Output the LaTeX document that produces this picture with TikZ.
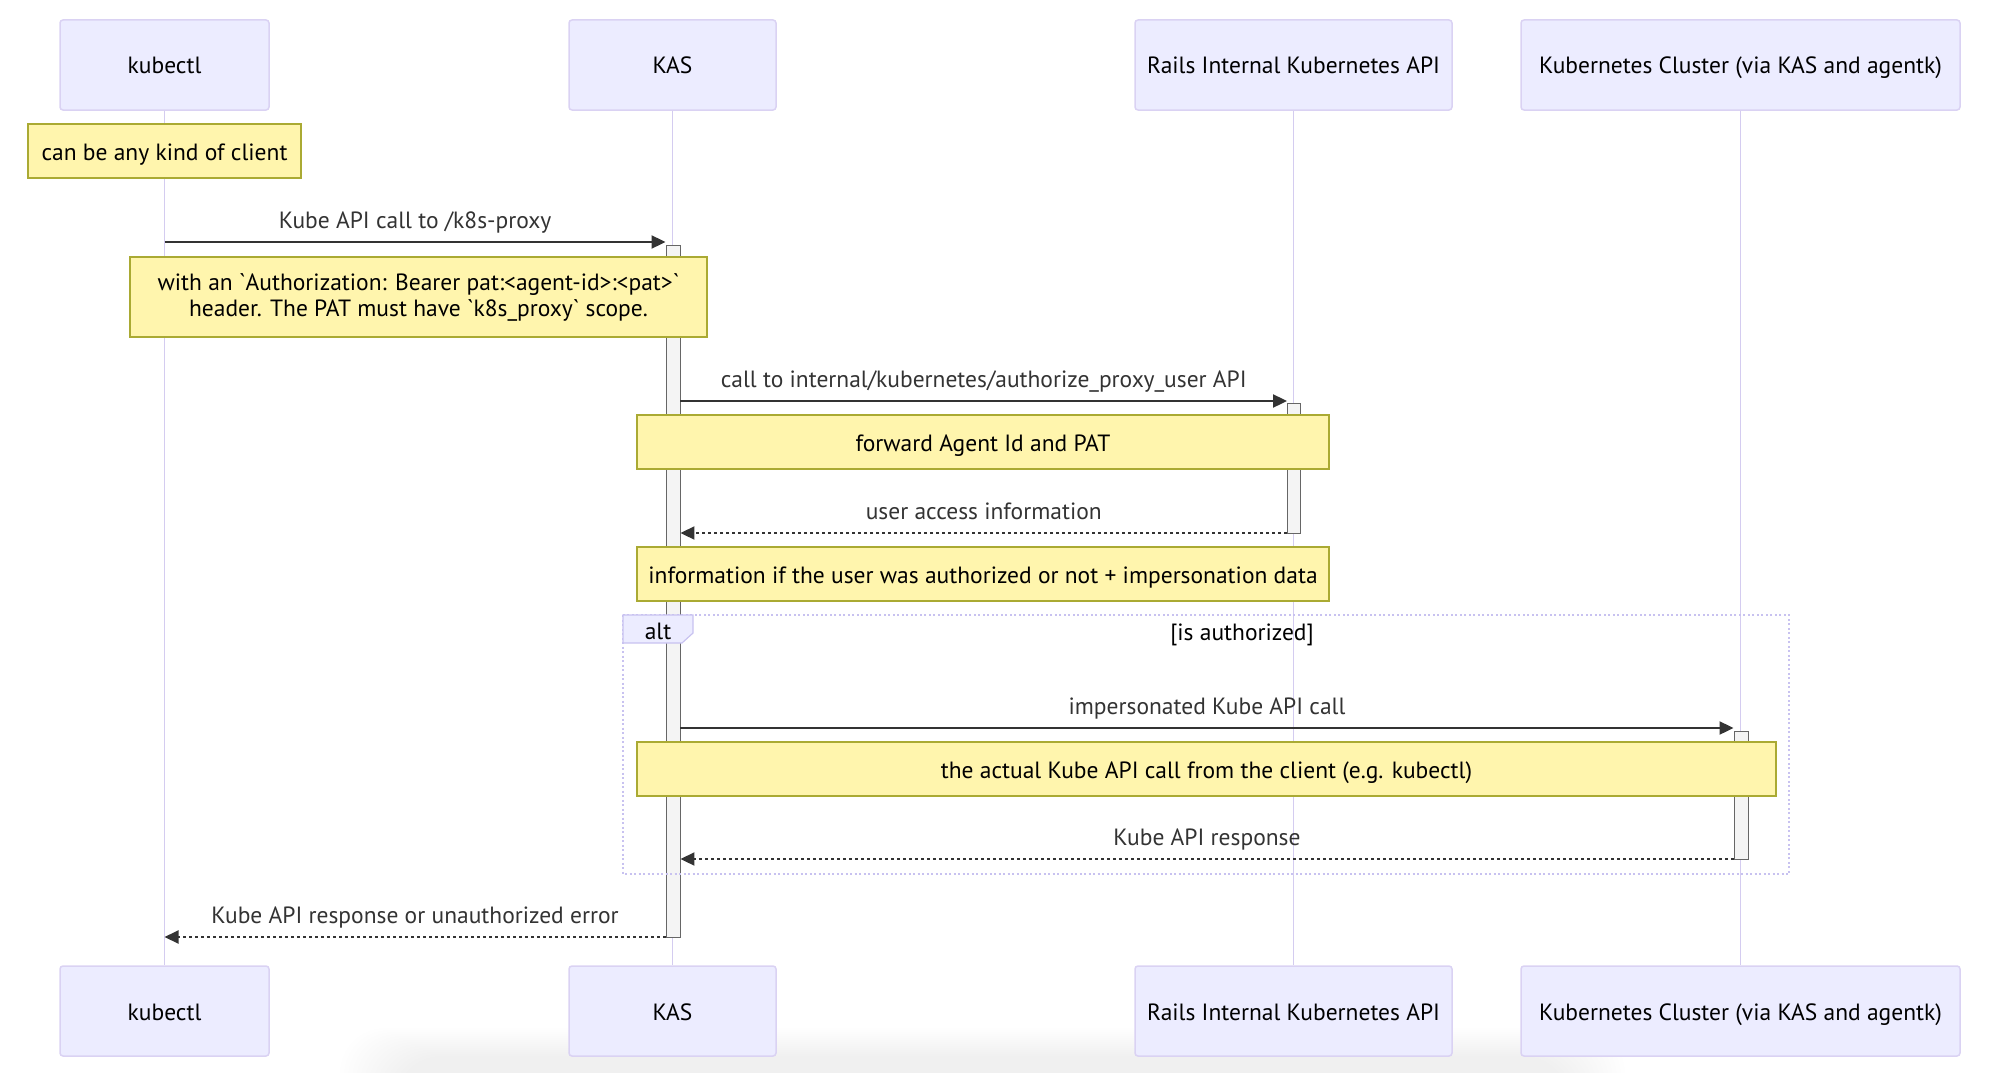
\documentclass[tikz,border=0pt]{standalone}
\usepackage{fontspec}
\setmainfont{PT Sans}
\usetikzlibrary{arrows.meta}
\definecolor{actorfill}{HTML}{ECECFF}
\definecolor{actorborder}{RGB}{218,210,243}
\definecolor{lifecol}{RGB}{212,204,240}
\definecolor{notefill}{HTML}{FFF5AD}
\definecolor{noteborder}{HTML}{AAAA33}
\definecolor{actfill}{HTML}{F4F4F4}
\definecolor{actborder}{HTML}{666666}
\definecolor{sigcol}{HTML}{333333}
\definecolor{framecol}{RGB}{200,194,240}
\newcommand{\dfont}{\fontsize{23.5}{26}\selectfont}
\tikzset{
  actor/.style={draw=actorborder, fill=actorfill, line width=1.5pt, rounded corners=3pt,
    minimum height=90, inner sep=0pt, text height=18pt, text depth=0pt, font=\dfont},
  lifeline/.style={draw=lifecol, line width=1.6pt},
  noteplain/.style={draw=noteborder, fill=notefill, line width=1.2pt, inner sep=0pt, font=\dfont},
  notebox/.style={noteplain, text height=18pt, text depth=0pt},
  activ/.style={draw=actborder, fill=actfill, line width=0.9pt, inner sep=0pt, minimum width=14},
  sig/.style={draw=sigcol, line width=2pt, -{Triangle[length=14pt,width=13pt]}},
  sigdash/.style={sig, dash pattern=on 3pt off 3pt},
  msglabel/.style={midway, anchor=base, yshift=14pt, text=sigcol, inner sep=0pt, font=\dfont},
  altframe/.style={draw=framecol, line width=1.8pt, dash pattern=on 2pt off 2.5pt},
}
\begin{document}
\begin{tikzpicture}[x=1pt,y=-1pt]
\useasboundingbox (0,0) rectangle (1999,1073);
% faint shadow at bottom
\begin{scope}
\clip (0,0) rectangle (1999,1073);
\foreach \i in {0,...,14}
  \fill[black, opacity=0.0045, rounded corners=45pt] (340+\i*4,1028+\i*2) rectangle (1625-\i*4,1130);
\end{scope}
% participants
\node[actor, minimum width=209] (kt) at (164.5,65) {kubectl};
\node[actor, minimum width=207] (kast) at (672.5,65) {KAS};
\node[actor, minimum width=317] (rt) at (1293.5,65) {Rails Internal Kubernetes API};
\node[actor, minimum width=439] (ct) at (1740.5,65) {Kubernetes Cluster (via KAS and agentk)};
\node[actor, minimum width=209] (kb) at (164.5,1011) {kubectl};
\node[actor, minimum width=207] (kasb) at (672.5,1011) {KAS};
\node[actor, minimum width=317] (rb) at (1293.5,1011) {Rails Internal Kubernetes API};
\node[actor, minimum width=439] (cb) at (1740.5,1011) {Kubernetes Cluster (via KAS and agentk)};
% lifelines
\draw[lifeline] (kt.south) -- (kb.north);
\draw[lifeline] (kast.south) -- (kasb.north);
\draw[lifeline] (rt.south) -- (rb.north);
\draw[lifeline] (ct.south) -- (cb.north);
% activations
\node[activ, minimum height=692] (actK) at (673,591) {};
\node[activ, minimum height=130, minimum width=13] (actR) at (1294,468) {};
\node[activ, minimum height=128] (actC) at (1741,795) {};
% notes
\node[notebox, minimum width=273, minimum height=54] (n1) at (164.5,151) {can be any kind of client};
\node[noteplain, minimum width=577, minimum height=80, align=center] (n2) at (418.5,297)
  {with an \textasciigrave Authorization: Bearer pat:<agent-id>:<pat>\textasciigrave\\header. The PAT must have \textasciigrave k8s\_proxy\textasciigrave{} scope.};
\node[notebox, minimum width=692, minimum height=54] (n3) at (983,442) {forward Agent Id and PAT};
\node[notebox, minimum width=692, minimum height=54] (n4) at (983,574) {information if the user was authorized or not + impersonation data};
\node[notebox, minimum width=1139, minimum height=54] (n5) at (1206.5,769) {the actual Kube API call from the client (e.g. kubectl)};
% alt frame
\coordinate (fa) at (623,615);
\coordinate (fb) at (1789,874);
\draw[altframe] (fa) rectangle (fb);
\draw[draw=framecol, fill=actorfill, line width=1.2pt] (fa) -- (693,615) -- (693,633) -- (682,643) -- (623,643) -- cycle;
\node[font=\dfont, inner sep=0pt, anchor=base] (altlbl) at (658,639) {alt};
\node[font=\dfont, inner sep=0pt, anchor=base] (cond) at (1242,640) {[is authorized]};
% messages
\coordinate (m1s) at (164.5,242);
\draw[sig] (m1s) -- (m1s -| actK.west) node[msglabel] (l1) {Kube API call to /k8s-proxy};
\coordinate (m2s) at (680,401);
\draw[sig] (m2s -| actK.east) -- (m2s -| actR.west) node[msglabel] (l2) {call to internal/kubernetes/authorize\_proxy\_user API};
\coordinate (m3s) at (1287,533);
\draw[sigdash] (m3s -| actR.west) -- (m3s -| actK.east) node[msglabel] (l3) {user access information};
\coordinate (m4s) at (680,728);
\draw[sig] (m4s -| actK.east) -- (m4s -| actC.west) node[msglabel] (l4) {impersonated Kube API call};
\coordinate (m5s) at (1734,859);
\draw[sigdash] (m5s -| actC.west) -- (m5s -| actK.east) node[msglabel] (l5) {Kube API response};
\coordinate (m6s) at (666,937);
\draw[sigdash] (m6s -| actK.west) -- (m6s -| kt.south) node[msglabel] (l6) {Kube API response or unauthorized error};
\end{tikzpicture}
\end{document}
